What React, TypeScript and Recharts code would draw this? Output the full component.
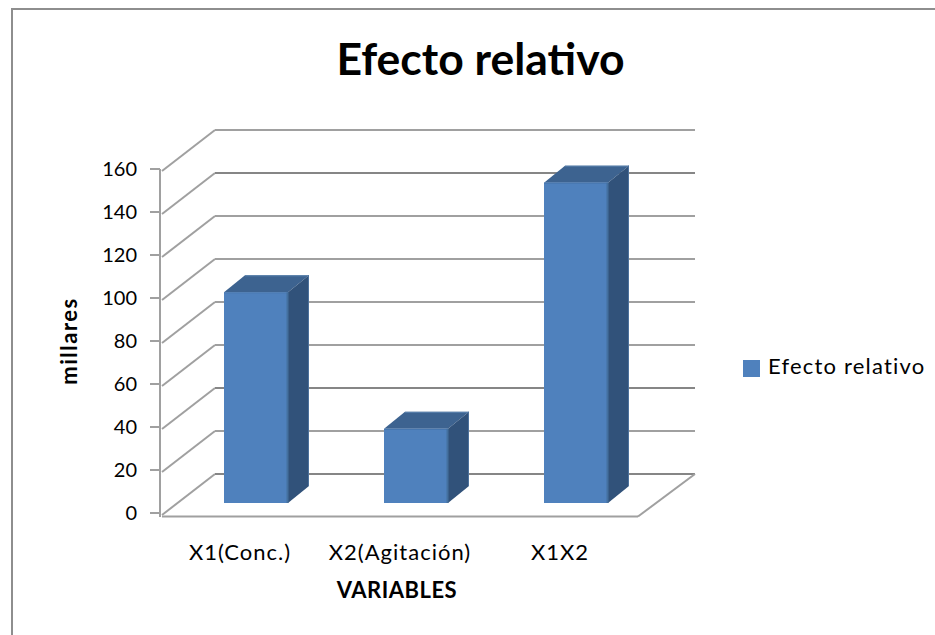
import React from 'react';
import { BarChart, Bar, XAxis, YAxis, CartesianGrid, Legend, Label } from 'recharts';

const categories = ['X1(Conc.)', 'X2(Agitación)', 'X1X2'];
const efectoRelativo = [98, 34.5, 149];
const yTicks = [0, 20, 40, 60, 80, 100, 120, 140, 160];
const seriesName = 'Efecto relativo';

const chartData = categories.map((name, i) => ({ name, [seriesName]: efectoRelativo[i] }));

const FONT = 'Lato, "Open Sans", sans-serif';
const GRID = '#a0a0a0';
const GRID_DARK = '#868686';

// 3D wall offsets: a gridline climbs from the front axis to the back wall
const WALL_DX = 54;
const WALL_DY = -40;
const PLOT_BOTTOM = 513;
const UNIT = 43;

// bars sit half way into the floor
const BAR_DX = 16;
const BAR_DY = -10;
const DEPTH_X = 21;
const DEPTH_Y = -17;

const GridLine = (props: any) => {
  const { y1, x1, x2 } = props;
  const level = Math.round((PLOT_BOTTOM - y1) / UNIT);
  const stroke = level === 0 || level === 7 || level === 2 ? GRID_DARK : GRID;
  const startX = x1 + 2;
  const startY = y1 + 2;
  const backX = x1 + WALL_DX + 1;
  const backY = y1 + WALL_DY + 1;
  return (
    <g>
      <line x1={startX} y1={startY} x2={backX} y2={backY} stroke={GRID} strokeWidth={2} />
      <line x1={backX} y1={backY} x2={x2 + WALL_DX + 1} y2={backY} stroke={stroke} strokeWidth={2} />
      {level === 0 && (
        <g>
          <line x1={x1} y1={y1} x2={x1} y2={y1 + 4} stroke={GRID} strokeWidth={2} />
          <line x1={x1 + 2} y1={y1 + 3.5} x2={x2 - 2} y2={y1 + 3.5} stroke={GRID} strokeWidth={2} />
          <line x1={x2 - 2} y1={y1 + 3.5} x2={x2 + WALL_DX + 1} y2={backY} stroke={GRID} strokeWidth={2} />
        </g>
      )}
    </g>
  );
};

const Box3D = (props: any) => {
  const { x, y, width, height } = props;
  const left = x + BAR_DX;
  const right = left + width;
  const top = y + BAR_DY;
  const bottom = top + height;
  return (
    <g>
      <polygon
        points={`${left},${top} ${left + DEPTH_X},${top + DEPTH_Y} ${right + DEPTH_X},${top + DEPTH_Y} ${right},${top}`}
        fill="#3d6390"
      />
      <polygon
        points={`${right},${top} ${right + DEPTH_X},${top + DEPTH_Y} ${right + DEPTH_X},${bottom + DEPTH_Y} ${right},${bottom}`}
        fill="#31527a"
      />
      <rect x={left} y={top} width={width} height={height} fill="#4f81bd" />
      {/* soft edges along the box */}
      <line x1={left} y1={top + 0.5} x2={right} y2={top + 0.5} stroke="#4775ad" />
      <line x1={right - 0.5} y1={top} x2={right - 0.5} y2={bottom} stroke="#44709f" strokeWidth={2} />
      <line x1={left + DEPTH_X} y1={top + DEPTH_Y + 0.5} x2={right + DEPTH_X} y2={top + DEPTH_Y + 0.5} stroke="#5b82ad" />
      <line x1={right + DEPTH_X - 0.5} y1={top + DEPTH_Y} x2={right + DEPTH_X - 0.5} y2={bottom + DEPTH_Y} stroke="#4d729d" />
    </g>
  );
};

export default function App() {
  return (
    <div style={{ position: 'absolute', left: 0, top: 0, width: 935, height: 635, background: '#fff', overflow: 'hidden' }}>
      {/* chart area frame, only the top and left edges are in view */}
      <div style={{ position: 'absolute', left: 11, top: 7.5, right: -4, bottom: -4, borderLeft: '2px solid #8e8e8e', borderTop: '2px solid #8e8e8e' }} />
      <div style={{ position: 'absolute', left: 0, top: 26, width: 961, textAlign: 'center', fontFamily: FONT, fontWeight: 700, fontSize: 44.5, lineHeight: '64px', color: '#000' }}>
        Efecto relativo
      </div>
      <BarChart
        width={935}
        height={635}
        data={chartData}
        margin={{ top: 169, right: 103, bottom: 82, left: 100 }}
        barCategoryGap="30%"
        style={{ position: 'absolute', left: 0, top: 0 }}
      >
        <CartesianGrid vertical={false} horizontal={(p: any) => <GridLine key={p.key} {...p} />} />
        <XAxis
          dataKey="name"
          axisLine={false}
          tickLine={false}
          height={40}
          tickMargin={25}
          interval={0}
          tick={{ fontSize: 22, fill: '#000', fontFamily: FONT, letterSpacing: 1 }}
        >
          <Label value="VARIABLES" position="insideBottom" offset={-45} dx={-3} style={{ fontSize: 22, fontWeight: 700, letterSpacing: 0.5, fill: '#000', fontFamily: FONT }} />
        </XAxis>
        <YAxis
          domain={[0, 160]}
          ticks={yTicks}
          width={60}
          axisLine={{ stroke: GRID, strokeWidth: 2 }}
          tickLine={{ stroke: GRID, strokeWidth: 2 }}
          tickSize={10}
          tickMargin={13}
          tick={{ fontSize: 20, fill: '#000', fontFamily: FONT }}
        >
          <Label value="millares" angle={-90} position="insideLeft" offset={-31} style={{ fontSize: 22, fontWeight: 700, letterSpacing: 1.5, fill: '#000', fontFamily: FONT, textAnchor: 'middle' }} />
        </YAxis>
        <Legend
          layout="vertical"
          align="right"
          verticalAlign="top"
          iconType="square"
          iconSize={17}
          wrapperStyle={{ left: 743, top: 352, width: 192, fontFamily: FONT, fontSize: 22, letterSpacing: 1.2 }}
          formatter={(value: string) => <span style={{ color: '#000', marginLeft: 4, whiteSpace: 'nowrap' }}>{value}</span>}
        />
        <Bar dataKey={seriesName} fill="#4f81bd" shape={<Box3D />} isAnimationActive={false} />
      </BarChart>
    </div>
  );
}
